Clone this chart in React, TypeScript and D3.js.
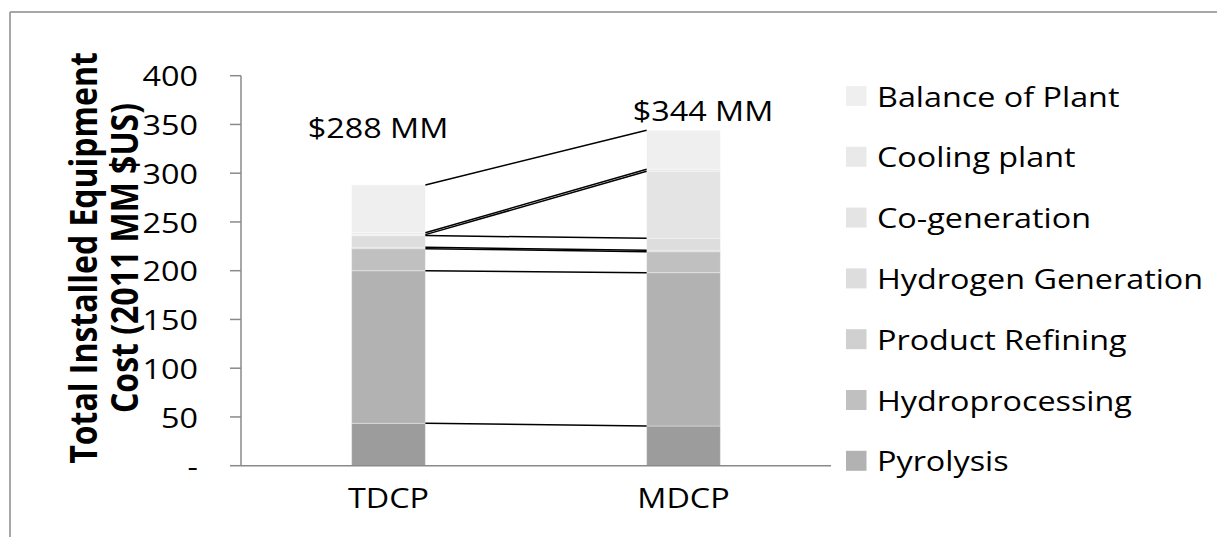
import React from "react";
import * as d3 from "d3";

// Installed equipment cost by plant area, 2011 MM $US
const categories = ["TDCP", "MDCP"];
const baseUnlabeled = [43.5, 40.7];
const pyrolysis = [156.5, 157.3];
const hydroprocessing = [22.6, 21.5];
const productRefining = [1.4, 1.5];
const hydrogenGeneration = [12.0, 12.2];
const coGeneration = [1.0, 68.8];
const coolingPlant = [2.0, 2.0];
const balanceOfPlant = [49.0, 40.0];
const totalLabels = ["$288 MM", "$344 MM"];
const yTicks = [0, 50, 100, 150, 200, 250, 300, 350, 400];

const seriesKeys = ["base", "pyro", "hydro", "refin", "h2", "cogen", "cool", "bop"];
const seriesLabels = ["", "Pyrolysis", "Hydroprocessing", "Product Refining", "Hydrogen Generation", "Co-generation", "Cooling plant", "Balance of Plant"];
const seriesValues = [baseUnlabeled, pyrolysis, hydroprocessing, productRefining, hydrogenGeneration, coGeneration, coolingPlant, balanceOfPlant];
const seriesColors = ["#9c9c9c", "#b2b2b2", "#c0c0c0", "#d0d0d0", "#dddddd", "#e4e4e4", "#e9e9e9", "#efefef"];

const W = 1217;
const H = 537;
const FONT = "'Open Sans', sans-serif";
const SX = 1.155; // horizontal text stretch

const plot = { left: 241, right: 831, top: 75.7, bottom: 465.7 };
const labelOffsets = [
  { dx: -10.5, dy: -47 },
  { dx: 19.5, dy: -9.5 },
];

export default function App() {
  const rows = categories.map((c, i) => {
    const r: Record<string, any> = { cat: c };
    seriesKeys.forEach((k, j) => (r[k] = seriesValues[j][i]));
    return r;
  });
  const stacked = d3.stack().keys(seriesKeys)(rows as any);

  const x = d3
    .scaleBand()
    .domain(categories)
    .range([plot.left, plot.right])
    .paddingInner(0.75)
    .paddingOuter(0.375);
  const y = d3.scaleLinear().domain([0, 400]).range([plot.bottom, plot.top]);
  const bw = x.bandwidth();

  const xA = (x(categories[0]) as number) + bw;
  const xB = x(categories[1]) as number;

  const legendKeys = seriesKeys.map((k, j) => j).filter((j) => seriesLabels[j] !== "").reverse();

  const axisColor = "#8a8a8a";

  return (
    <svg width={W} height={H} style={{ position: "absolute", left: 0, top: 0, background: "#fff" }}>
      {/* chart frame */}
      <line x1={10} y1={12} x2={W} y2={12} stroke={axisColor} strokeWidth={1.5} />
      <line x1={10} y1={12} x2={10} y2={H} stroke={axisColor} strokeWidth={1.5} />

      {/* stacked bars */}
      {stacked.map((s, j) => (
        <g key={s.key}>
          {s.map((d, i) => (
            <rect
              key={i}
              x={x(categories[i])}
              y={y(d[1])}
              width={bw}
              height={Math.max(0, y(d[0]) - y(d[1]))}
              fill={seriesColors[j]}
              stroke="#ffffff"
              strokeOpacity={0.35}
              strokeWidth={1}
            />
          ))}
        </g>
      ))}

      {/* series lines between the bars */}
      {stacked.map((s) => (
        <line
          key={"sl" + s.key}
          x1={xA}
          y1={y(s[0][1])}
          x2={xB}
          y2={y(s[1][1])}
          stroke="#000"
          strokeWidth={1.5}
        />
      ))}

      {/* y axis */}
      <line x1={plot.left} y1={plot.top} x2={plot.left} y2={plot.bottom} stroke={axisColor} strokeWidth={1.5} />
      {yTicks.map((t) => (
        <g key={t}>
          <line x1={plot.left - 11} x2={plot.left} y1={y(t)} y2={y(t)} stroke={axisColor} strokeWidth={1.5} />
          <text
            transform={`translate(198,${y(t)}) scale(${SX},1)`}
            textAnchor="end"
            dominantBaseline="central"
            fontFamily={FONT}
            fontSize={28}
            fill="#000"
          >
            {t === 0 ? "-" : d3.format("d")(t)}
          </text>
        </g>
      ))}

      {/* x axis */}
      <line x1={plot.left} y1={plot.bottom} x2={plot.right} y2={plot.bottom} stroke={axisColor} strokeWidth={1.5} />
      {categories.map((c) => (
        <text
          key={c}
          transform={`translate(${(x(c) as number) + bw / 2},508) scale(${SX},1)`}
          textAnchor="middle"
          fontFamily={FONT}
          fontSize={28}
          fill="#000"
        >
          {c}
        </text>
      ))}

      {/* totals */}
      {categories.map((c, i) => {
        const top = stacked[stacked.length - 1][i][1];
        return (
          <text
            key={"tot" + c}
            transform={`translate(${(x(c) as number) + bw / 2 + labelOffsets[i].dx},${y(top) + labelOffsets[i].dy}) scale(${SX},1)`}
            textAnchor="middle"
            fontFamily={FONT}
            fontSize={28}
            fill="#000"
          >
            {totalLabels[i]}
          </text>
        );
      })}

      {/* y axis title */}
      <text
        transform={`translate(97,258) scale(${SX},1) rotate(-90)`}
        textAnchor="middle"
        fontFamily={FONT}
        fontWeight="bold"
        fontSize={32}
        fill="#000"
      >
        Total Installed Equipment
      </text>
      <text
        transform={`translate(138,258) scale(${SX},1) rotate(-90)`}
        textAnchor="middle"
        fontFamily={FONT}
        fontWeight="bold"
        fontSize={32}
        fill="#000"
      >
        Cost (2011 MM $US)
      </text>

      {/* legend */}
      {legendKeys.map((j, r) => {
        const cy = 96 + r * 60.8;
        return (
          <g key={"lg" + j}>
            <rect x={846} y={cy - 10} width={20.5} height={20} fill={seriesColors[j]} />
            <text
              transform={`translate(877,${cy}) scale(${SX},1)`}
              dominantBaseline="central"
              fontFamily={FONT}
              fontSize={28}
              fill="#000"
            >
              {seriesLabels[j]}
            </text>
          </g>
        );
      })}
    </svg>
  );
}
